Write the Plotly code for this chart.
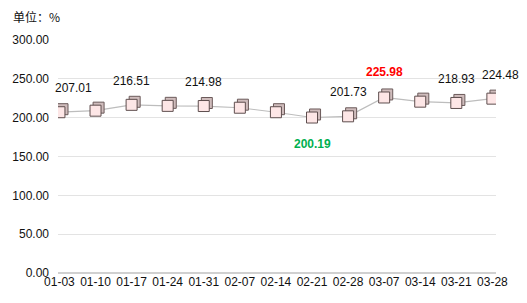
import plotly.graph_objects as go

categories = ["01-03", "01-10", "01-17", "01-24", "01-31", "02-07", "02-14",
              "02-21", "02-28", "03-07", "03-14", "03-21", "03-28"]
values = [207.01, 209.0, 216.51, 215.2, 214.98, 212.8, 207.0,
          200.19, 201.73, 225.98, 220.6, 218.93, 224.48]
labeled_idx = [0, 2, 4, 8, 11, 12]
min_idx = values.index(min(values))
max_idx = values.index(max(values))
y_ticks = [0, 50, 100, 150, 200, 250, 300]

FONT = "Liberation Sans, Arial, sans-serif"
xi = list(range(len(categories)))

fig = go.Figure()
fig.add_trace(go.Scatter(x=xi, y=values, mode="lines",
                         line=dict(color="#bdbdbd", width=1.2),
                         hoverinfo="skip", showlegend=False))
# back face of cube (offset up-right)
fig.add_trace(go.Scatter(x=[i + 0.085 for i in xi], y=[v + 3.9 for v in values],
                         mode="markers",
                         marker=dict(symbol="square", size=11, color="#cfbcbc",
                                     line=dict(color="#6b5a5a", width=1)),
                         hoverinfo="skip", showlegend=False))
# front face
fig.add_trace(go.Scatter(x=xi, y=values, mode="markers",
                         marker=dict(symbol="square", size=11, color="#fde6e6",
                                     line=dict(color="#5e4e4e", width=1)),
                         showlegend=False))

ann = []
for i in labeled_idx:
    xs = 0
    if i == 0:
        xs = 14
    elif i == len(values) - 1:
        xs = 8
    ann.append(dict(x=i, y=values[i], text=f"{values[i]:.2f}", showarrow=False,
                    xshift=xs, yshift=24, font=dict(family=FONT, size=12, color="#111")))
ann.append(dict(x=max_idx, y=values[max_idx], text=f"<b>{values[max_idx]:.2f}</b>",
                showarrow=False, yshift=25, font=dict(family=FONT, size=12, color="#ff0000")))
ann.append(dict(x=min_idx, y=values[min_idx], text=f"<b>{values[min_idx]:.2f}</b>",
                showarrow=False, yshift=-26, font=dict(family=FONT, size=12, color="#00b050")))
ann.append(dict(x=0, y=1, xref="paper", yref="paper", xanchor="left", yanchor="middle",
                text="单位：%", showarrow=False, xshift=-47, yshift=24,
                font=dict(family="Noto Sans CJK SC, " + FONT, size=12, color="#111")))

fig.update_layout(
    width=527, height=303, margin=dict(l=56, r=31, t=40, b=30),
    plot_bgcolor="white", paper_bgcolor="white",
    annotations=ann,
    xaxis=dict(tickmode="array", tickvals=xi, ticktext=categories,
               range=[-0.04, 12.1], showgrid=False, zeroline=False,
               showline=False, ticks="",
               tickfont=dict(family=FONT, size=12, color="#111")),
    yaxis=dict(range=[0, 300], tickvals=y_ticks, tickformat=".2f",
               showgrid=True, gridcolor="#e3e3e3", gridwidth=1,
               zeroline=True, zerolinecolor="#d0d0d0", showline=False,
               ticks="", ticklabelstandoff=8,
               tickfont=dict(family=FONT, size=12, color="#111")),
)
fig.write_html("out.html")
